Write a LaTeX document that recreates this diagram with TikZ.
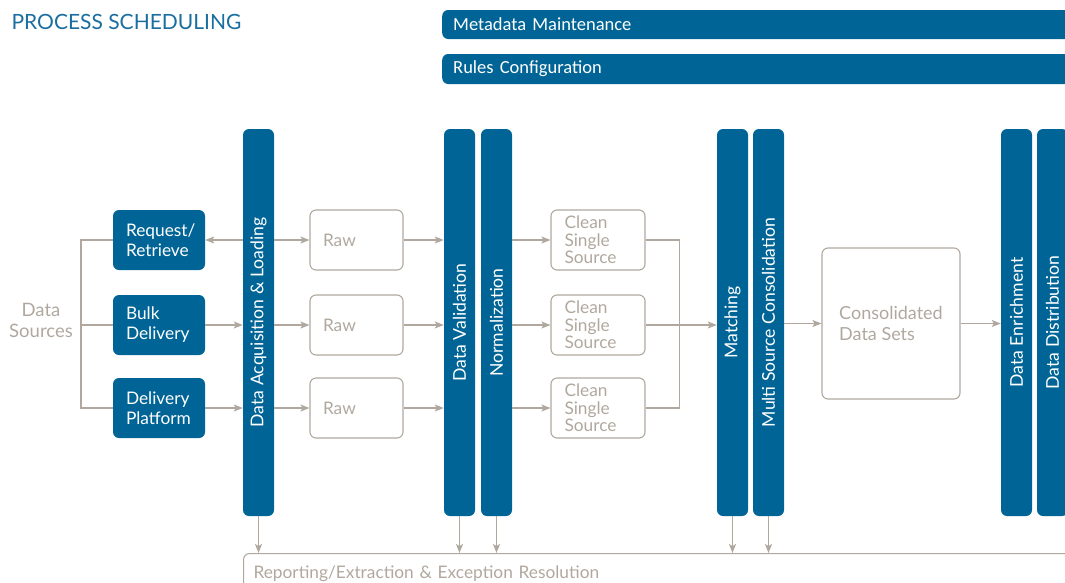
\documentclass[tikz,border=0pt]{standalone}
\usepackage{fontspec}
\setmainfont{Lato}
\newfontfamily\barfont{Carlito}
\usetikzlibrary{positioning}
\usetikzlibrary{arrows.meta}
\usetikzlibrary{calc}

\definecolor{procblue}{RGB}{0,101,150}
\definecolor{titleblue}{RGB}{26,110,160}
\definecolor{warmgray}{RGB}{176,168,158}

\tikzset{
  bodyfont/.style={font=\fontsize{17.3}{17.5}\selectfont},
  bluebox/.style={rectangle, rounded corners=6pt, fill=procblue, text=white, minimum width=92pt, minimum height=60pt, inner xsep=13pt, text width=66pt, align=left, font=\fontsize{17.3}{20}\selectfont},
  graybox/.style={rectangle, rounded corners=6pt, draw=warmgray, line width=1.1pt, text=warmgray, minimum width=93pt, minimum height=60pt, inner xsep=13pt, text width=67pt, align=left, bodyfont},
  stage/.style={rectangle, rounded corners=6pt, fill=procblue, minimum width=31pt, minimum height=387pt, inner sep=0pt},
  stagetext/.style={rotate=90, text=white, font=\fontsize{17.6}{20}\selectfont},
  topbar/.style={rectangle, rounded corners=6pt, fill=procblue, text=white, minimum width=660pt, minimum height=29pt, inner xsep=11pt, text width=638pt, align=left, font=\barfont\fontsize{18.5}{20}\selectfont},
  link/.style={draw=warmgray, line width=1.2pt},
  arr/.style={link, -{Stealth[length=9pt, width=7pt, inset=2pt]}},
}

\begin{document}
\begin{tikzpicture}[x=1pt, y=-1pt]
        \useasboundingbox (0,0) rectangle (1065,582);
        \clip (0,0) rectangle (1065,582);

        \node[anchor=west, text=titleblue, font=\fontsize{21}{24}\selectfont] (title) at (8,22) {PROCESS SCHEDULING};
        \node[topbar, anchor=west] (meta) at (442,24.5) {Metadata Maintenance};
        \node[topbar, anchor=west, minimum height=30pt] (rules) at (442,69) {Rules Configuration};

        \node[align=center, text=warmgray, font=\fontsize{18.5}{21}\selectfont] (src) at (41,320) {Data\\Sources};
        \coordinate (fork) at (81,325);

        \node[bluebox] (rr) at (159,240) {Request/\\Retrieve};
        \node[bluebox] (bd) at (159,325) {Bulk\\Delivery};
        \node[bluebox] (dp) at (159,408) {Delivery\\Platform};

        \node[stage, label={[stagetext]center:Data Acquisition \& Loading}] (acq) at (258.5,322.5) {};
        \node[stage, label={[stagetext]center:Data Validation}] (val) at (459.5,322.5) {};
        \node[stage, label={[stagetext]center:Normalization}] (norm) at (496.5,322.5) {};
        \node[stage, label={[stagetext]center:Matching}] (match) at (732.5,322.5) {};
        \node[stage, label={[stagetext]center:Multi Source Consolidation}] (msc) at (768.5,322.5) {};
        \node[stage, label={[stagetext]center:Data Enrichment}] (enr) at (1016.5,322.5) {};
        \node[stage, label={[stagetext]center:Data Distribution}] (dist) at (1052.5,322.5) {};

        \node[graybox] (raw1) at (356.5,240) {Raw};
        \node[graybox] (raw2) at (356.5,325) {Raw};
        \node[graybox] (raw3) at (356.5,408) {Raw};
        \node[graybox, minimum width=94pt] (clean1) at (598,240) {Clean\\Single\\Source};
        \node[graybox, minimum width=94pt] (clean2) at (598,325) {Clean\\Single\\Source};
        \node[graybox, minimum width=94pt] (clean3) at (598,408) {Clean\\Single\\Source};
        \node[graybox, minimum width=138pt, minimum height=151pt, text width=, inner xsep=4pt, font=\fontsize{18}{21}\selectfont] (cons) at (891,323.5) {Consolidated\\Data Sets};

        \node[rectangle, rounded corners=6pt, draw=warmgray, line width=1.1pt, text=warmgray, anchor=north west, minimum height=40pt, inner xsep=10pt, text width=830pt, align=left, bodyfont] (rep) at (243,553) {Reporting/Extraction \& Exception Resolution};

        \draw[link] (rr.west) -| (fork) |- (dp.west);
        \draw[link] (fork) -- (bd.west);
        \draw[arr] (acq.west |- rr.east) -- (rr.east);
        \draw[arr] (bd.east) -- (acq.west |- bd.east);
        \draw[arr] (dp.east) -- (acq.west |- dp.east);

        \foreach \i in {1,2,3} {
            \draw[arr] (acq.east |- raw\i.west) -- (raw\i.west);
            \draw[arr] (raw\i.east) -- (val.west |- raw\i.east);
            \draw[arr] (norm.east |- clean\i.west) -- (clean\i.west);
        }

        \coordinate (merge) at ($(clean2.east)+(34,0)$);
        \draw[link] (clean1.east) -| (merge) |- (clean3.east);
        \draw[arr] (clean2.east) -- (match.west |- clean2.east);
        \draw[arr] (msc.east |- cons.west) -- (cons.west);
        \draw[arr] (cons.east) -- (enr.west |- cons.east);

        \foreach \b in {acq,val,norm,match,msc}
            \draw[arr] (\b.south) -- (\b.south |- rep.north);
    \end{tikzpicture}
\end{document}
